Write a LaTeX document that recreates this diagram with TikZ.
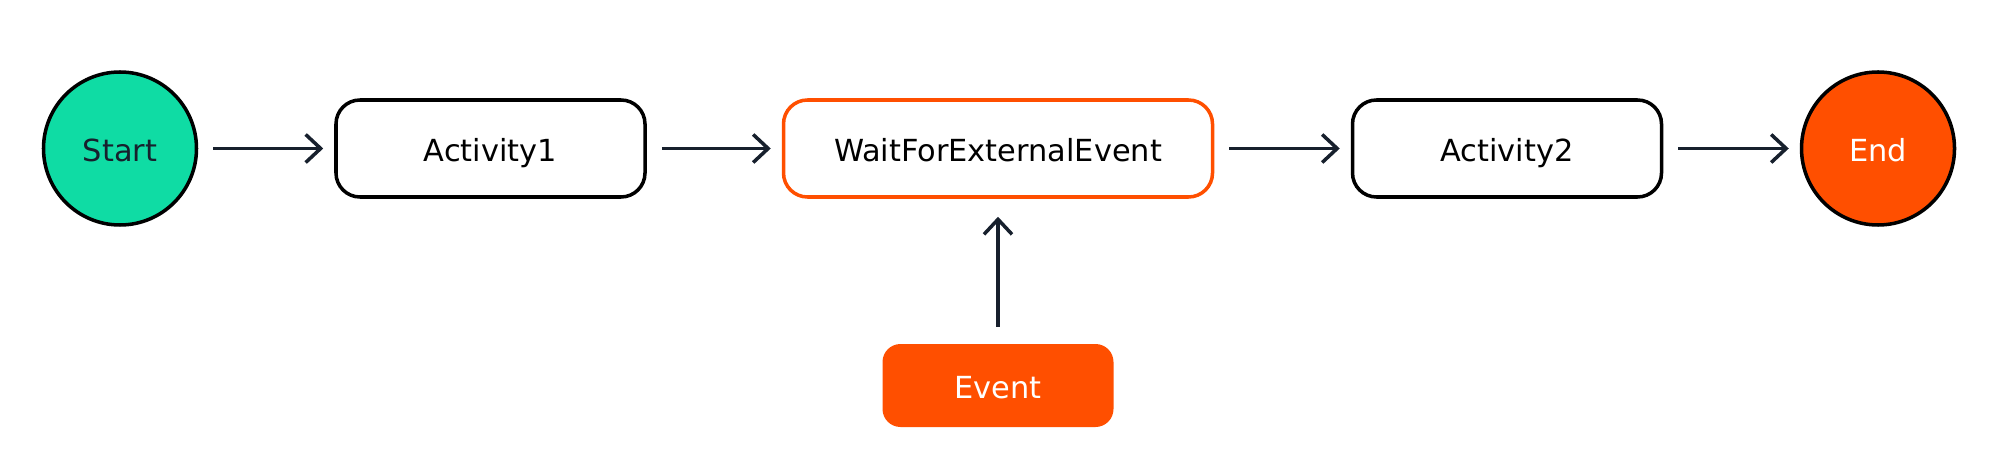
\documentclass[tikz,border=0pt]{standalone}
\usepackage{fontspec}
\setmainfont{DejaVu Sans}
\usetikzlibrary{arrows.meta}
\definecolor{zold}{HTML}{0FDCA4}
\definecolor{narancs}{HTML}{FF4F00}
\definecolor{sotet}{HTML}{17202D}
\tikzset{
  kor/.style={circle,draw=black,line width=2pt,minimum size=3.06cm,inner sep=0pt},
  lepes/.style={draw=black,rounded corners=0.48cm,line width=2pt,
    minimum width=6.18cm,minimum height=1.94cm,inner sep=0pt},
  esem/.style={fill=narancs,rounded corners=0.36cm,minimum width=4.62cm,
    minimum height=1.66cm,text=white,inner sep=0pt},
  nyil/.style={draw=sotet,line width=2pt,-{Straight Barb[length=3mm,width=5.6mm]},
    shorten <=0.3cm,shorten >=0.22cm},
}

\begin{document}
\begin{tikzpicture}[font=\fontsize{17.3}{20}\selectfont,text height=14.6pt,text depth=0pt]
  \useasboundingbox (0,0) rectangle (39.96,-9.36);
  \node[kor,fill=zold,text=sotet] (s) at (2.40,-2.97) {Start};
  \node[lepes] (a1) at (9.81,-2.97) {Activity1};
  \node[lepes,draw=narancs,minimum width=8.58cm] (w) at (19.96,-2.97) {WaitForExternalEvent};
  \node[lepes] (a2) at (30.14,-2.97) {Activity2};
  \node[kor,fill=narancs,text=white] (e) at (37.56,-2.97) {End};
  \node[esem] (ev) at (19.96,-7.71) {Event};
  \foreach \a/\b in {s/a1,a1/w,w/a2,a2/e}
    \draw[nyil] (\a) -- (\b);
  \draw[nyil,shorten <=0.34cm,shorten >=0.36cm] (ev) -- (w);
\end{tikzpicture}
\end{document}
